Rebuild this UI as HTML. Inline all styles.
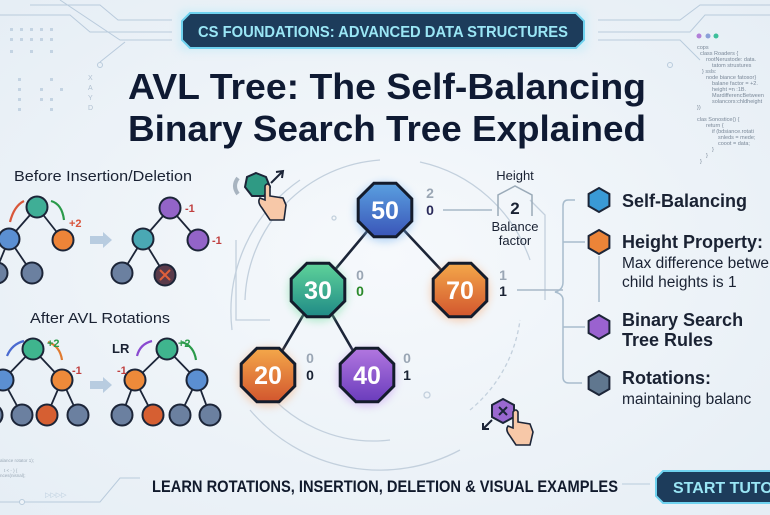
<!DOCTYPE html>
<html><head><meta charset="utf-8"><style>
html,body{margin:0;padding:0;width:770px;height:515px;overflow:hidden;background:#eef3f8}
svg{display:block}
text{font-family:"Liberation Sans",sans-serif}
</style></head><body>
<svg width="770" height="515" viewBox="0 0 770 515" xmlns="http://www.w3.org/2000/svg">
<defs>
<radialGradient id="bg" cx="50%" cy="50%" r="70%"><stop offset="0" stop-color="#f6f9fc"/><stop offset="1" stop-color="#e6eef5"/></radialGradient>
<linearGradient id="gBlue" x1="0" y1="0" x2="0" y2="1"><stop offset="0" stop-color="#5aa0e0"/><stop offset="1" stop-color="#3a55b8"/></linearGradient>
<linearGradient id="gTeal" x1="0" y1="0" x2="0" y2="1"><stop offset="0" stop-color="#5fd39a"/><stop offset="1" stop-color="#1f8a86"/></linearGradient>
<linearGradient id="gOr" x1="0" y1="0" x2="0" y2="1"><stop offset="0" stop-color="#f4a84a"/><stop offset="1" stop-color="#d2562e"/></linearGradient>
<linearGradient id="gPu" x1="0" y1="0" x2="0" y2="1"><stop offset="0" stop-color="#b277e0"/><stop offset="1" stop-color="#6a3cbc"/></linearGradient>
<polygon id="oct" points="26.8,11.1 11.1,26.8 -11.1,26.8 -26.8,11.1 -26.8,-11.1 -11.1,-26.8 11.1,-26.8 26.8,-11.1" stroke="#141c2c" stroke-width="3"/>
<polygon id="hex" points="0,-12 10.4,-6 10.4,6 0,12 -10.4,6 -10.4,-6" stroke="#1c2538" stroke-width="2"/>
<filter id="glow" x="-50%" y="-50%" width="200%" height="200%"><feGaussianBlur stdDeviation="4"/></filter>
</defs>
<rect width="770" height="515" fill="url(#bg)"/>

<!-- circuit lines top -->
<g stroke="#b9cbdc" fill="none" stroke-width="1">
<path d="M0,15 L70,15 L90,32 L172,32"/><path d="M30,5 L100,5 L118,20 L172,20"/><path d="M60,0 L120,40 L172,40"/>
<circle cx="100" cy="65" r="2.5"/><path d="M100,62 L125,42"/>
<path d="M598,20 L680,20 L700,5 L770,5"/><path d="M598,32 L690,32 L705,15 L770,15"/><path d="M598,40 L680,40 L700,60"/><circle cx="670" cy="65" r="2.5"/>
</g>
<g fill="#c3d3e2">
<rect x="10" y="28" width="3" height="3"/><rect x="20" y="28" width="3" height="3"/><rect x="30" y="28" width="3" height="3"/><rect x="40" y="28" width="3" height="3"/><rect x="50" y="28" width="3" height="3"/>
<rect x="10" y="38" width="3" height="3"/><rect x="20" y="38" width="3" height="3"/><rect x="30" y="38" width="3" height="3"/><rect x="40" y="38" width="3" height="3"/><rect x="50" y="38" width="3" height="3"/>
<rect x="10" y="50" width="3" height="3"/><rect x="30" y="50" width="3" height="3"/><rect x="50" y="50" width="3" height="3"/>
<rect x="18" y="78" width="3" height="3"/><rect x="18" y="88" width="3" height="3"/><rect x="18" y="98" width="3" height="3"/><rect x="18" y="108" width="3" height="3"/>
<rect x="40" y="88" width="3" height="3"/><rect x="40" y="98" width="3" height="3"/><rect x="50" y="78" width="3" height="3"/><rect x="50" y="98" width="3" height="3"/><rect x="50" y="108" width="3" height="3"/><rect x="60" y="88" width="3" height="3"/>
</g>
<text x="88" y="80" font-size="7" fill="#b0c0d0">X</text><text x="88" y="90" font-size="7" fill="#b0c0d0">A</text><text x="88" y="100" font-size="7" fill="#b0c0d0">Y</text><text x="88" y="110" font-size="7" fill="#b0c0d0">D</text>

<!-- code text -->
<g font-family="Liberation Mono,monospace" font-size="5.5" fill="#7a8898">
<circle cx="699" cy="36" r="2.5" fill="#b27fd8"/><circle cx="708" cy="36" r="2.5" fill="#8aa0d8"/><circle cx="716" cy="36" r="2.5" fill="#3dbf9a"/>
<text x="697" y="49">cops</text><text x="700" y="55">class Roaders {</text><text x="706" y="61">rootNerustode: data.</text><text x="712" y="67">tatom strustures</text>
<text x="702" y="73">} ssls:</text><text x="706" y="79">node biance fatosor}</text><text x="712" y="85">balane factor = +2.</text><text x="712" y="91">height =n :1B.</text>
<text x="712" y="97">MardifferencBetween</text><text x="712" y="103">solancors:chldheight</text><text x="697" y="109">})</text>
<text x="697" y="121">clas Sonostice() {</text><text x="706" y="127">return {</text><text x="712" y="133">if (bdsiance.rotati</text><text x="718" y="139">snleds = mede;</text><text x="718" y="145">cooot = data;</text><text x="712" y="151">}</text><text x="706" y="157">}</text><text x="700" y="163">}</text>
</g>

<!-- banner -->
<rect x="178" y="9" width="410" height="43" rx="8" fill="#bfeaf7" opacity="0.5" filter="url(#glow)"/>
<path d="M190,13 L576,13 L584,21 L584,40 L576,48 L190,48 L182,40 L182,21 Z" fill="#1d3c5b" stroke="#6fd2ef" stroke-width="2"/>
<text x="383" y="37" font-size="15.5" font-weight="bold" fill="#9ae6f5" text-anchor="middle" textLength="370" lengthAdjust="spacingAndGlyphs">CS FOUNDATIONS: ADVANCED DATA STRUCTURES</text>

<!-- title -->
<text x="387" y="99" font-size="36" font-weight="bold" fill="#0f1a33" text-anchor="middle" textLength="518" lengthAdjust="spacingAndGlyphs">AVL Tree: The Self-Balancing</text>
<text x="387" y="141" font-size="36" font-weight="bold" fill="#0f1a33" text-anchor="middle" textLength="518" lengthAdjust="spacingAndGlyphs">Binary Search Tree Explained</text>

<!-- circuit arcs around main tree -->
<g fill="none" stroke="#c3d0dd" stroke-width="1.3">
<path d="M245,300 A145,145 0 0 1 380,160"/>
<path d="M232,330 A160,160 0 0 1 300,180"/>
<path d="M420,162 A150,150 0 0 1 530,260"/>
<path d="M258,380 A140,140 0 0 0 390,440"/>
<path d="M250,410 A170,170 0 0 0 460,450"/>
<path d="M470,410 A140,140 0 0 0 520,320" stroke-dasharray="4 3"/>
<path d="M236,240 L236,320 L270,320"/>
<path d="M530,200 L545,215 L545,300"/>
<circle cx="427" cy="395" r="3"/><circle cx="334" cy="218" r="2"/>
</g>

<!-- left section -->
<text x="14" y="181" font-size="14.5" fill="#1a2233" textLength="178" lengthAdjust="spacingAndGlyphs">Before Insertion/Deletion</text>
<g stroke="#1c2538" stroke-width="1.8">
<line x1="37" y1="207" x2="9" y2="239"/><line x1="37" y1="207" x2="63" y2="240"/><line x1="9" y1="239" x2="32" y2="273"/><line x1="9" y1="239" x2="-5" y2="273"/>
<line x1="170" y1="208" x2="143" y2="239"/><line x1="170" y1="208" x2="198" y2="240"/><line x1="143" y1="239" x2="122" y2="273"/><line x1="143" y1="239" x2="165" y2="275"/>
<line x1="33" y1="349" x2="3" y2="380"/><line x1="33" y1="349" x2="62" y2="380"/><line x1="3" y1="380" x2="22" y2="415"/><line x1="62" y1="380" x2="47" y2="415"/><line x1="62" y1="380" x2="78" y2="415"/>
<line x1="167" y1="349" x2="135" y2="380"/><line x1="167" y1="349" x2="197" y2="380"/><line x1="135" y1="380" x2="122" y2="415"/><line x1="135" y1="380" x2="153" y2="415"/><line x1="197" y1="380" x2="180" y2="415"/><line x1="197" y1="380" x2="210" y2="415"/>
</g>
<g stroke="#1c2538" stroke-width="2">
<circle cx="37" cy="207" r="10.5" fill="#3fae96"/><circle cx="9" cy="239" r="10.5" fill="#5b8fd2"/><circle cx="63" cy="240" r="10.5" fill="#ee8438"/><circle cx="32" cy="273" r="10.5" fill="#6b80a0"/><circle cx="-3" cy="273" r="10.5" fill="#6b80a0"/>
<circle cx="170" cy="208" r="10.5" fill="#9364c8"/><circle cx="143" cy="239" r="10.5" fill="#4aa8b4"/><circle cx="198" cy="240" r="10.5" fill="#9364c8"/><circle cx="122" cy="273" r="10.5" fill="#6b80a0"/><circle cx="165" cy="275" r="10.5" fill="#5a3a4a"/>
<circle cx="33" cy="349" r="10.5" fill="#3fb58e"/><circle cx="3" cy="380" r="10.5" fill="#5b8fd2"/><circle cx="62" cy="380" r="10.5" fill="#ee8a3a"/><circle cx="22" cy="415" r="10.5" fill="#6b80a0"/><circle cx="47" cy="415" r="10.5" fill="#d65f32"/><circle cx="78" cy="415" r="10.5" fill="#6b80a0"/><circle cx="-8" cy="415" r="10.5" fill="#6b80a0"/>
<circle cx="167" cy="349" r="10.5" fill="#3fb58e"/><circle cx="135" cy="380" r="10.5" fill="#ee8a3a"/><circle cx="197" cy="380" r="10.5" fill="#5b8fd2"/><circle cx="122" cy="415" r="10.5" fill="#6b80a0"/><circle cx="153" cy="415" r="10.5" fill="#d65f32"/><circle cx="180" cy="415" r="10.5" fill="#6b80a0"/><circle cx="210" cy="415" r="10.5" fill="#6b80a0"/>
</g>
<path d="M160,270 L170,280 M170,270 L160,280" stroke="#e0603a" stroke-width="2"/>
<g fill="none" stroke-width="2.2">
<path d="M10,222 Q14,206 24,201" stroke="#d9573a"/><path d="M51,201 Q62,204 64,220" stroke="#2a9a4a"/>
<path d="M24,341 Q12,344 7,356" stroke="#4a6ad0"/><path d="M48,342 Q60,346 62,360" stroke="#e07a30"/>
<path d="M152,341 Q140,344 137,356" stroke="#8a4ad0"/><path d="M182,342 Q194,346 196,360" stroke="#2a9a4a"/>
</g>
<text x="69" y="227" font-size="11" font-weight="bold" fill="#d9533a">+2</text>
<text x="185" y="212" font-size="11" font-weight="bold" fill="#c04040">-1</text>
<text x="212" y="244" font-size="11" font-weight="bold" fill="#c04040">-1</text>
<rect x="90" y="236" width="14" height="8" fill="#b8cce0"/><path d="M103,232 L112,240 L103,248 Z" fill="#b8cce0"/>
<rect x="90" y="381" width="14" height="8" fill="#b8cce0"/><path d="M103,377 L112,385 L103,393 Z" fill="#b8cce0"/>
<text x="30" y="323" font-size="14.5" fill="#1a2233" textLength="140" lengthAdjust="spacingAndGlyphs">After AVL Rotations</text>
<text x="47" y="347" font-size="11" font-weight="bold" fill="#2a9a4a">+2</text>
<text x="72" y="374" font-size="11" font-weight="bold" fill="#c04040">-1</text>
<text x="112" y="353" font-size="13" font-weight="bold" fill="#1a2233">LR</text>
<text x="117" y="374" font-size="11" font-weight="bold" fill="#c04040">-1</text>
<text x="178" y="347" font-size="11" font-weight="bold" fill="#2a9a4a">+2</text>

<!-- top-left hand icon -->
<path d="M238,178 Q232,186 238,194" stroke="#a8b4c0" stroke-width="4" fill="none"/>
<polygon points="256,173 266,177 270,187 264,196 252,196 245,187 247,177" fill="#2f9a84" stroke="#1c2538" stroke-width="2"/>
<path d="M271,183 L282,172 M276,172 L283,171 L282,178" stroke="#1c2538" stroke-width="2" fill="none"/>
<path d="M265,186 L265,200 L260,198 Q257,202 262,208 L270,220 L284,220 L286,205 L283,198 L270,196 L270,186 Q267,182 265,186 Z" fill="#f7c8a8" stroke="#1c2538" stroke-width="1.6"/>

<!-- main tree -->
<g stroke="#1c2538" stroke-width="2.6">
<line x1="385" y1="210" x2="318" y2="290"/><line x1="385" y1="210" x2="460" y2="290"/>
<line x1="318" y1="290" x2="268" y2="375"/><line x1="318" y1="290" x2="367" y2="375"/>
</g>
<circle cx="385" cy="212" r="30" fill="#7ab4f0" opacity="0.5" filter="url(#glow)"/>
<circle cx="318" cy="292" r="30" fill="#7ee0a8" opacity="0.5" filter="url(#glow)"/>
<circle cx="460" cy="292" r="30" fill="#f6b080" opacity="0.5" filter="url(#glow)"/>
<circle cx="268" cy="377" r="30" fill="#f6b080" opacity="0.5" filter="url(#glow)"/>
<circle cx="367" cy="377" r="30" fill="#c49af0" opacity="0.5" filter="url(#glow)"/>
<use href="#oct" x="385" y="210" fill="url(#gBlue)"/>
<use href="#oct" x="318" y="290" fill="url(#gTeal)"/>
<use href="#oct" x="460" y="290" fill="url(#gOr)"/>
<use href="#oct" x="268" y="375" fill="url(#gOr)"/>
<use href="#oct" x="367" y="375" fill="url(#gPu)"/>
<g font-size="25" font-weight="bold" fill="#fff" text-anchor="middle">
<text x="385" y="219">50</text><text x="318" y="299">30</text><text x="460" y="299">70</text><text x="268" y="384">20</text><text x="367" y="384">40</text>
</g>
<g font-size="14" font-weight="bold" text-anchor="middle">
<text x="430" y="198" fill="#9aa6b4">2</text><text x="430" y="215" fill="#2a2a5a">0</text>
<text x="360" y="280" fill="#9aa6b4">0</text><text x="360" y="296" fill="#2a8a2a">0</text>
<text x="503" y="280" fill="#9aa6b4">1</text><text x="503" y="296" fill="#1a2233">1</text>
<text x="310" y="363" fill="#9aa6b4">0</text><text x="310" y="380" fill="#1a2233">0</text>
<text x="407" y="363" fill="#9aa6b4">0</text><text x="407" y="380" fill="#1a2233">1</text>
</g>
<line x1="443" y1="210" x2="492" y2="210" stroke="#a8b8c8" stroke-width="1.5"/>
<line x1="517" y1="290" x2="563" y2="290" stroke="#a8b8c8" stroke-width="1.5"/>
<text x="515" y="180" font-size="13" fill="#1a2233" text-anchor="middle">Height</text>
<path d="M498,216 L498,195 L515,186 L532,195 L532,216" fill="none" stroke="#9aaab8" stroke-width="1.5"/>
<text x="515" y="214" font-size="17" font-weight="bold" fill="#1a2233" text-anchor="middle">2</text>
<text x="515" y="231" font-size="13" fill="#1a2233" text-anchor="middle">Balance</text>
<text x="515" y="245" font-size="13" fill="#1a2233" text-anchor="middle">factor</text>

<!-- bottom hand icon -->
<path d="M492,420 L483,429 M483,423 L483,429 L489,429" stroke="#1c2538" stroke-width="2" fill="none"/>
<polygon points="503,399 514,405 514,417 503,423 492,417 492,405" fill="#9a68d0" stroke="#1c2538" stroke-width="2"/>
<path d="M499,407 L507,415 M507,407 L499,415" stroke="#1c2538" stroke-width="2"/>
<path d="M513,412 L513,428 L508,426 Q505,430 510,436 L516,445 L530,445 L533,432 L530,424 L518,422 L518,412 Q516,408 513,412 Z" fill="#f7c8a8" stroke="#1c2538" stroke-width="1.6"/>

<!-- right panel -->
<path d="M575,200 L568,200 Q563,200 563,206 L563,282 Q563,290 555,292 Q563,294 563,300 L563,377 Q563,383 569,383 L582,383 M563,242 L585,242 M563,327 L585,327" fill="none" stroke="#a8bccd" stroke-width="1.5"/>
<line x1="599" y1="256" x2="599" y2="302" stroke="#a8bccd" stroke-width="1.5"/>
<use href="#hex" x="599" y="200" fill="#3a9ad6"/>
<use href="#hex" x="599" y="242" fill="#ec8438"/>
<use href="#hex" x="599" y="327" fill="#9a62d0"/>
<use href="#hex" x="599" y="383" fill="#60778f"/>
<g fill="#1a2233">
<text x="622" y="207" font-size="18" font-weight="bold">Self-Balancing</text>
<text x="622" y="248" font-size="18" font-weight="bold">Height Property:</text>
<text x="622" y="268" font-size="15.5">Max difference betwe</text>
<text x="622" y="287" font-size="15.5">child heights is 1</text>
<text x="622" y="326" font-size="18" font-weight="bold">Binary Search</text>
<text x="622" y="346" font-size="18" font-weight="bold">Tree Rules</text>
<text x="622" y="384" font-size="18" font-weight="bold">Rotations:</text>
<text x="622" y="404" font-size="15.5">maintaining balanc</text>
</g>

<!-- bottom -->
<g font-family="Liberation Mono,monospace" font-size="4.5" fill="#9aa8b6"><text x="0" y="462">alance rotator 1);</text><text x="4" y="472">t &lt; - ) {</text><text x="0" y="477">nces(nisnal);</text></g>
<path d="M0,502 L100,502 L120,478 L140,478" fill="none" stroke="#b9cbdc" stroke-width="1"/><circle cx="22" cy="502" r="2.5" fill="#eef3f8" stroke="#b9cbdc"/>
<text x="45" y="497" font-size="7" fill="#b9cbdc">▷▷▷▷</text>
<line x1="622" y1="484" x2="650" y2="484" stroke="#b9cbdc"/>
<text x="152" y="492" font-size="17" font-weight="bold" fill="#111a2c" textLength="466" lengthAdjust="spacingAndGlyphs">LEARN ROTATIONS, INSERTION, DELETION &amp; VISUAL EXAMPLES</text>
<path d="M663,471 L775,471 L775,503 L663,503 L656,496 L656,478 Z" fill="#1d3c5b" stroke="#6fd2ef" stroke-width="2"/>
<text x="673" y="493" font-size="16" font-weight="bold" fill="#9ae6f5">START TUTOR</text>
</svg>
</body></html>
